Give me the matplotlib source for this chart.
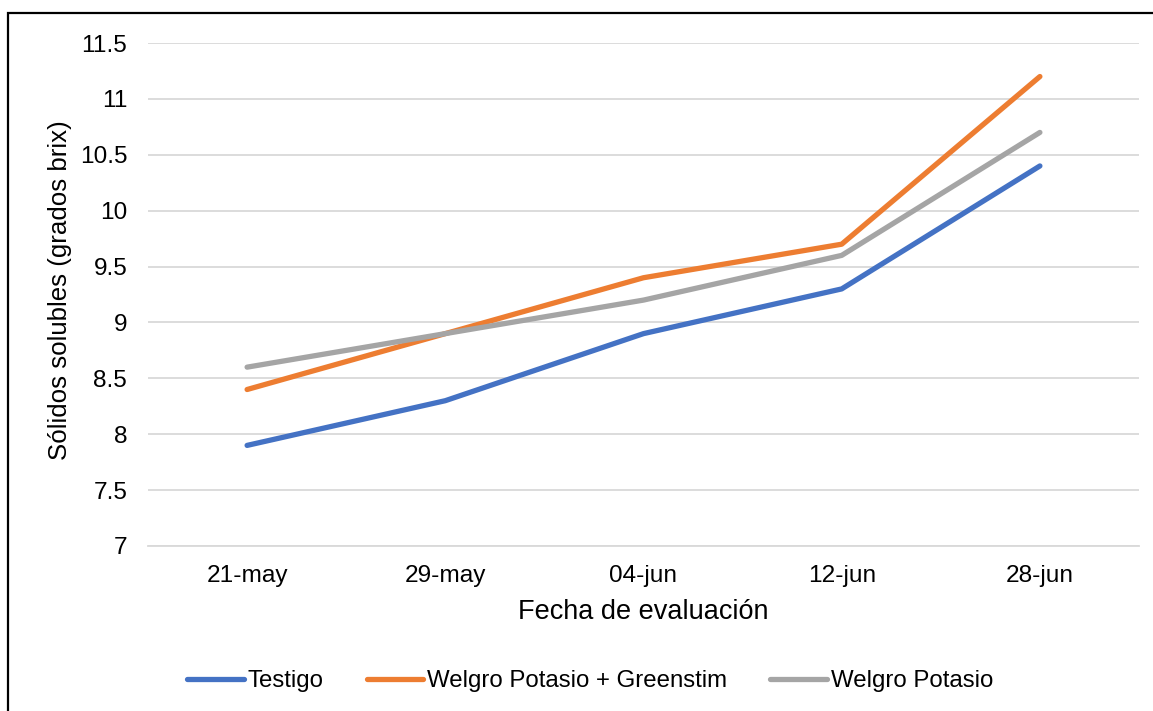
import matplotlib.pyplot as plt
from matplotlib.patches import Rectangle

plt.rcParams['font.family'] = ['Liberation Sans', 'DejaVu Sans']

# data
fechas = ["21-may", "29-may", "04-jun", "12-jun", "28-jun"]
testigo = [7.9, 8.3, 8.9, 9.3, 10.4]
welgro_greenstim = [8.4, 8.9, 9.4, 9.7, 11.2]
welgro_potasio = [8.6, 8.9, 9.2, 9.6, 10.7]

series = [
    ("Testigo", testigo, "#4472C4"),
    ("Welgro Potasio + Greenstim", welgro_greenstim, "#ED7D31"),
    ("Welgro Potasio", welgro_potasio, "#A5A5A5"),
]

W, H = 1153, 711
fig = plt.figure(figsize=(W / 100, H / 100), dpi=100)
ax = fig.add_axes([148 / W, 1 - 546 / H, (1139 - 148) / W, (546 - 43) / H])

x = list(range(len(fechas)))
for name, vals, color in series:
    ax.plot(x, vals, color=color, linewidth=3.8, label=name,
            solid_capstyle="round", solid_joinstyle="round", zorder=3)

ax.set_xlim(-0.5, len(fechas) - 0.5)
ax.set_ylim(7, 11.5)
ax.set_yticks([7, 7.5, 8, 8.5, 9, 9.5, 10, 10.5, 11, 11.5])
ax.set_yticklabels(["7", "7.5", "8", "8.5", "9", "9.5", "10", "10.5", "11", "11.5"])
ax.set_xticks(x)
ax.set_xticklabels(fechas)
ax.tick_params(axis="both", length=0, labelsize=17.6, colors="#000000")
ax.tick_params(axis="y", pad=15)
ax.tick_params(axis="x", pad=14)
ax.grid(axis="y", color="#D9D9D9", linewidth=1.3, zorder=0)
for side in ["top", "right", "left"]:
    ax.spines[side].set_visible(False)
ax.spines["bottom"].set_color("#D9D9D9")
ax.spines["bottom"].set_linewidth(1.3)

fig.text(60 / W, 1 - 290 / H, "Sólidos solubles (grados brix)", rotation=90,
         ha="center", va="center", fontsize=18.6)
fig.text(643 / W, 1 - 612 / H, "Fecha de evaluación", ha="center", va="center",
         fontsize=19.5)

fig.legend(loc="center", bbox_to_anchor=(590 / W, 1 - 681 / H), ncol=3,
           frameon=False, fontsize=17.3, handlelength=2.35, handletextpad=0.16,
           columnspacing=1.8)

# outer border of the chart (cropped on right and bottom)
fig.patches.append(Rectangle((8 / W, -0.1), 1.2, 1.1 - 13 / H,
                             transform=fig.transFigure, fill=False,
                             edgecolor="black", linewidth=1.6))

fig.savefig("out.png", dpi=100)
